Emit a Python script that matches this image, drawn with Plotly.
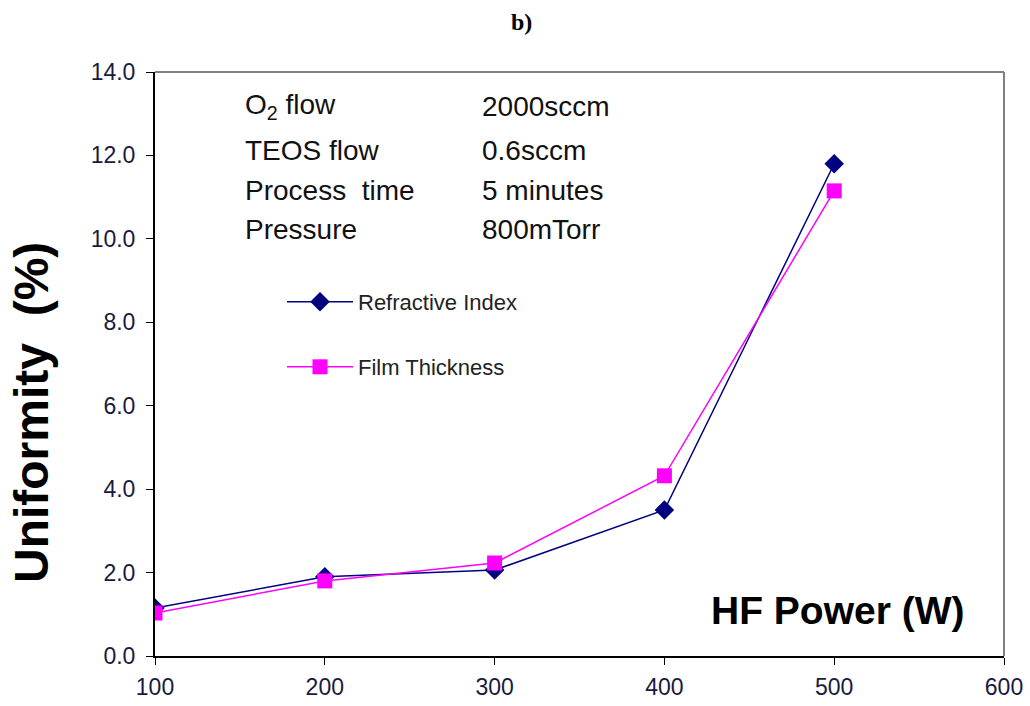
import plotly.graph_objects as go

power = [100, 200, 300, 400, 500]
refractive_index = [1.15, 1.9, 2.06, 3.5, 11.8]
film_thickness = [1.03, 1.8, 2.23, 4.32, 11.15]
y_ticks = [0, 2, 4, 6, 8, 10, 12, 14]
x_ticks = [100, 200, 300, 400, 500, 600]
cond_labels = ["O<sub>2</sub> flow", "TEOS flow", "Process  time", "Pressure"]
cond_values = ["2000sccm", "0.6sccm", "5 minutes", "800mTorr"]

W, H = 1030, 706
ML, MR, MT, MB = 155, 26, 72, 50
PW, PH = W - ML - MR, H - MT - MB


def px(xp):
    return (xp - ML) / PW


def py(yp):
    return (H - MB - yp) / PH


fig = go.Figure()
fig.add_trace(go.Scatter(
    x=power, y=refractive_index, mode="lines+markers", name="Refractive Index",
    line=dict(color="#000080", width=1.5),
    marker=dict(symbol="diamond", size=15, color="#000080"),
    legend="legend", showlegend=True))
fig.add_trace(go.Scatter(
    x=power, y=film_thickness, mode="lines+markers", name="Film Thickness",
    line=dict(color="#FF00FF", width=1.5),
    marker=dict(symbol="square", size=15, color="#FF00FF"),
    legend="legend2", showlegend=True))

font_main = "Liberation Sans, Arial, sans-serif"
fig.update_layout(
    width=W, height=H,
    margin=dict(l=ML, r=MR, t=MT, b=MB, autoexpand=False),
    paper_bgcolor="white", plot_bgcolor="white",
    showlegend=True,
    font=dict(family=font_main, color="#1a1a40"),
    legend=dict(x=px(282), y=py(302), xanchor="left", yanchor="middle",
                bgcolor="rgba(0,0,0,0)", font=dict(size=22, color="#222"), itemwidth=66),
    legend2=dict(x=px(282), y=py(367), xanchor="left", yanchor="middle",
                 bgcolor="rgba(0,0,0,0)", font=dict(size=22, color="#222"), itemwidth=66),
    xaxis=dict(range=[100, 600], tickvals=x_ticks, ticks="outside", ticklen=7,
               tickcolor="black", showline=True, linecolor="black", linewidth=2,
               mirror=False, showgrid=False, zeroline=False, automargin=False,
               ticklabelstandoff=2,
               tickfont=dict(size=23, color="#1a1a40")),
    yaxis=dict(range=[0, 14], tickvals=y_ticks, tickformat=".1f", ticks="outside",
               ticklen=7, tickcolor="black", showline=True, linecolor="black",
               linewidth=2, showgrid=False, zeroline=False, automargin=False,
               ticklabelstandoff=6,
               tickfont=dict(size=23, color="#1a1a40")),
)

# gray frame on top and right
fig.add_shape(type="line", xref="paper", yref="paper", x0=0, x1=1, y0=1, y1=1,
              line=dict(color="#808080", width=2))
fig.add_shape(type="line", xref="paper", yref="paper", x0=1, x1=1, y0=0, y1=1,
              line=dict(color="#808080", width=2))

row_y = [107, 150, 190, 229]
for lab, val, yy in zip(cond_labels, cond_values, row_y):
    fig.add_annotation(x=px(243), y=py(yy), xref="paper", yref="paper", text=lab,
                       showarrow=False, xanchor="left", yanchor="middle",
                       font=dict(size=28, color="#111", family=font_main))
    fig.add_annotation(x=px(480), y=py(yy), xref="paper", yref="paper", text=val,
                       showarrow=False, xanchor="left", yanchor="middle",
                       font=dict(size=28, color="#111", family=font_main))

fig.add_annotation(x=px(31), y=py(413), xref="paper", yref="paper",
                   text="<b>Uniformity  (%)</b>", showarrow=False, textangle=-90,
                   xanchor="center", yanchor="middle",
                   font=dict(size=48, color="black", family=font_main))
fig.add_annotation(x=px(966), y=py(610), xref="paper", yref="paper",
                   text="<b>HF Power (W)</b>", showarrow=False,
                   xanchor="right", yanchor="middle",
                   font=dict(size=39, color="black", family=font_main))
fig.add_annotation(x=px(521), y=py(22), xref="paper", yref="paper", text="<b>b)</b>",
                   showarrow=False, xanchor="center", yanchor="middle",
                   font=dict(size=24, color="black",
                             family="Liberation Serif, Times New Roman, serif"))

fig.write_html("out.html")
